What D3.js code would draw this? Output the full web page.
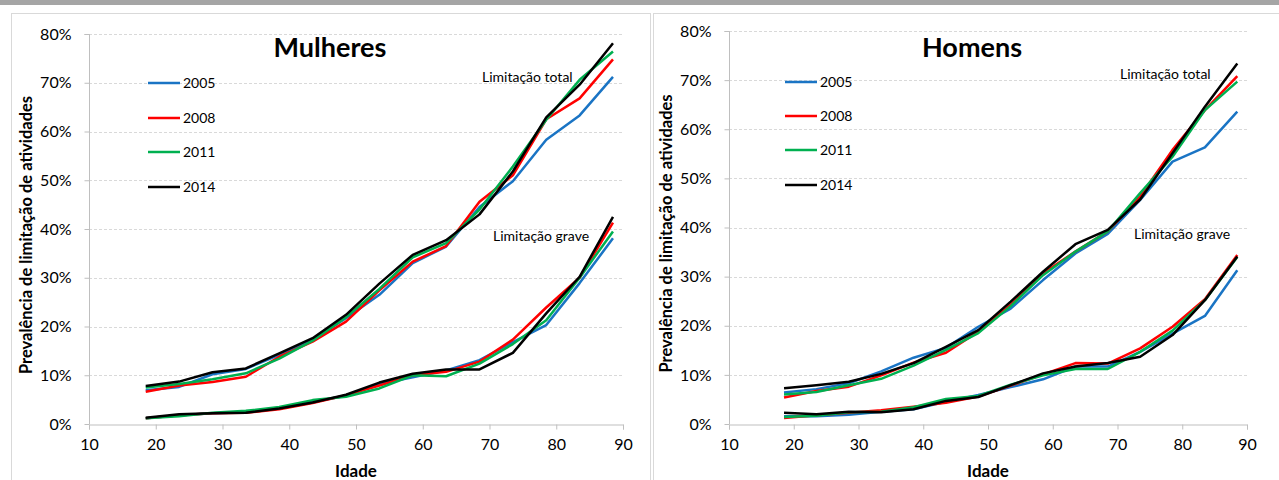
<!DOCTYPE html>
<html>
<head>
  <meta charset="utf-8">
  <title>Prevalência de limitação de atividades</title>
  <script src="https://cdn.jsdelivr.net/npm/d3@7"></script>
  <style>
    body { margin: 0; background: #fff; }
    text { font-family: Lato, "Open Sans", sans-serif; }
  </style>
</head>
<body>
  <div id="chart"></div>

  <script>
    // idades (ponto médio dos grupos)
    const ages = [18.5, 23.5, 28.5, 33.5, 38.5, 43.5, 48.5, 53.5, 58.5, 63.5, 68.5, 73.5, 78.5, 83.5, 88.5]
    const years = ['2005', '2008', '2011', '2014']
    const colors = ['#1a74c4', '#ff0000', '#00b050', '#000000']
    const yTicks = [0, 10, 20, 30, 40, 50, 60, 70, 80]
    const xTicks = [10, 20, 30, 40, 50, 60, 70, 80, 90]

    // Mulheres - limitação total, por ano
    const mulTotal2005 = [6.9, 7.6, 10.2, 11.3, 14.2, 17.3, 21.7, 26.5, 33.0, 36.4, 44.5, 49.8, 58.3, 63.3, 71.2]
    const mulTotal2008 = [6.6, 7.9, 8.6, 9.7, 13.8, 16.9, 21.0, 27.4, 33.3, 36.5, 45.6, 51.0, 62.5, 66.8, 74.8]
    const mulTotal2011 = [7.5, 8.2, 9.2, 10.4, 13.4, 17.1, 21.9, 27.7, 34.2, 37.1, 44.0, 52.8, 62.4, 70.6, 76.4]
    const mulTotal2014 = [7.8, 8.7, 10.6, 11.4, 14.5, 17.6, 22.4, 28.8, 34.7, 37.7, 43.0, 51.8, 62.9, 69.6, 78.1]

    // Mulheres - limitação grave
    const mulGrave2005 = [1.2, 1.8, 2.2, 2.4, 3.2, 4.5, 5.8, 8.2, 9.6, 11.0, 13.1, 16.8, 20.3, 28.9, 38.1]
    const mulGrave2008 = [1.2, 1.8, 2.2, 2.3, 3.0, 4.3, 5.9, 7.9, 10.0, 10.7, 12.8, 17.3, 23.9, 30.0, 41.3]
    const mulGrave2011 = [1.2, 1.6, 2.3, 2.7, 3.5, 4.9, 5.6, 7.3, 10.0, 9.8, 12.4, 16.4, 21.3, 30.0, 39.5]
    const mulGrave2014 = [1.3, 2.0, 2.2, 2.3, 3.2, 4.4, 6.0, 8.5, 10.3, 11.2, 11.2, 14.6, 22.7, 30.2, 42.5]

    // Homens - limitação total
    const homTotal2005 = [6.4, 7.1, 8.3, 10.7, 13.5, 15.5, 19.8, 23.5, 29.3, 34.7, 38.7, 45.6, 53.4, 56.3, 63.6]
    const homTotal2008 = [5.4, 6.7, 7.6, 9.9, 12.5, 14.5, 18.8, 24.3, 30.7, 35.1, 39.2, 46.3, 55.8, 63.9, 70.8]
    const homTotal2011 = [6.0, 6.5, 7.9, 9.2, 11.9, 15.1, 18.5, 24.0, 30.3, 35.1, 39.2, 47.0, 54.4, 63.9, 69.7]
    const homTotal2014 = [7.3, 7.9, 8.6, 10.2, 12.4, 15.7, 19.1, 24.9, 31.0, 36.6, 39.5, 45.7, 55.1, 64.6, 73.4]

    // Homens - limitação grave
    const homGrave2005 = [1.6, 1.6, 1.9, 2.5, 3.0, 4.5, 5.9, 7.5, 9.1, 11.7, 11.7, 14.7, 18.4, 22.0, 31.3]
    const homGrave2008 = [1.2, 1.8, 2.3, 2.8, 3.5, 4.3, 5.6, 7.8, 10.1, 12.4, 12.3, 15.4, 19.8, 25.4, 34.4]
    const homGrave2011 = [1.4, 1.7, 2.4, 2.5, 3.4, 5.1, 5.7, 8.0, 9.9, 11.2, 11.2, 14.7, 19.0, 25.2, 34.0]
    const homGrave2014 = [2.3, 2.0, 2.5, 2.4, 3.0, 4.7, 5.5, 7.9, 10.3, 11.7, 12.4, 13.7, 18.1, 25.2, 34.1]

    const width = 1279
    const height = 480

    const svg = d3.select('#chart')
      .append('svg')
      .attr('width', width)
      .attr('height', height)

    // faixa cinzenta no topo
    svg.append('rect')
      .attr('x', 0).attr('y', 0)
      .attr('width', width).attr('height', 5)
      .attr('fill', '#a5a5a5')

    const panels = [
      {
        title: 'Mulheres',
        frame: [11, 13, 639],
        x0: 89, x1: 623, y0: 424, y1: 34,
        total: [mulTotal2005, mulTotal2008, mulTotal2011, mulTotal2014],
        grave: [mulGrave2005, mulGrave2008, mulGrave2011, mulGrave2014],
        titleX: 330,
        legX: 148, legY: [83, 118, 152, 187],
        totalLab: [482, 77], graveLab: [493, 236]
      },
      {
        title: 'Homens',
        frame: [653, 13, 640],
        x0: 729, x1: 1247, y0: 424, y1: 31,
        total: [homTotal2005, homTotal2008, homTotal2011, homTotal2014],
        grave: [homGrave2005, homGrave2008, homGrave2011, homGrave2014],
        titleX: 972,
        legX: 785, legY: [82, 116, 150, 185],
        totalLab: [1120, 74], graveLab: [1134, 234]
      }
    ]

    panels.forEach(p => drawPanel(p))

    function drawPanel(p) {
      const g = svg.append('g')

      // moldura do painel
      g.append('rect')
        .attr('x', p.frame[0] + 0.5).attr('y', p.frame[1] + 0.5)
        .attr('width', p.frame[2]).attr('height', 500)
        .attr('fill', '#fff')
        .attr('stroke', '#d9d9d9')

      const x = d3.scaleLinear().domain([10, 90]).range([p.x0, p.x1])
      const y = d3.scaleLinear().domain([0, 80]).range([p.y0, p.y1])

      // grelha
      g.append('g')
        .selectAll('line')
        .data(yTicks.slice(1))
        .enter()
        .append('line')
        .attr('x1', p.x0).attr('x2', p.x1)
        .attr('y1', d => Math.round(y(d)) + 0.5)
        .attr('y2', d => Math.round(y(d)) + 0.5)
        .attr('stroke', '#d9d9d9')
        .attr('stroke-dasharray', '3,2')

      // eixos
      const yAxis = g.append('g')
        .attr('transform', `translate(${p.x0 + 0.5},0)`)
        .call(d3.axisLeft(y).tickValues(yTicks).tickSize(5).tickFormat(d => d + '%'))
      const xAxis = g.append('g')
        .attr('transform', `translate(0,${p.y0 + 0.5})`)
        .call(d3.axisBottom(x).tickValues(xTicks).tickSize(5).tickFormat(d3.format('d')))

      ;[yAxis, xAxis].forEach(a => {
        a.select('.domain').attr('stroke', '#bfbfbf')
        a.selectAll('.tick line').attr('stroke', '#bfbfbf')
        a.selectAll('.tick text')
          .attr('fill', '#000')
          .style('font-size', '16px')
          .style('font-family', 'Lato, "Open Sans", sans-serif')
      })
      yAxis.select('.domain').attr('d', `M-5,${p.y1 + 0.5}H0V${p.y0}`)
      yAxis.selectAll('.tick text').attr('x', -18)
      xAxis.selectAll('.tick text').attr('y', 14)

      // linhas
      const line = d3.line()
        .x((d, i) => x(ages[i]))
        .y(d => y(d))

      const series = []
      years.forEach((yr, k) => {
        series.push({ values: p.total[k], color: colors[k] })
        series.push({ values: p.grave[k], color: colors[k] })
      })
      // ordem de desenho: 2005 por baixo, 2014 por cima
      g.append('g')
        .selectAll('path')
        .data(series)
        .enter()
        .append('path')
        .attr('d', d => line(d.values))
        .attr('fill', 'none')
        .attr('stroke', d => d.color)
        .attr('stroke-width', 2.5)
        .attr('stroke-linejoin', 'round')

      // legenda
      const leg = g.append('g')
        .selectAll('g')
        .data(years)
        .enter()
        .append('g')
        .attr('transform', (d, i) => `translate(${p.legX},${p.legY[i]})`)
      leg.append('line')
        .attr('x1', 0).attr('x2', 32)
        .attr('stroke', (d, i) => colors[i])
        .attr('stroke-width', 2.5)
      leg.append('text')
        .attr('x', 35).attr('dy', '0.35em')
        .style('font-size', '14px')
        .text(d => d)

      // título
      g.append('text')
        .attr('x', p.titleX).attr('y', 57)
        .attr('text-anchor', 'middle')
        .style('font-size', '27px')
        .style('font-weight', 'bold')
        .text(p.title)

      // anotações
      g.append('text')
        .attr('x', p.totalLab[0]).attr('y', p.totalLab[1])
        .attr('dy', '0.35em')
        .style('font-size', '14px')
        .text('Limitação total')
      g.append('text')
        .attr('x', p.graveLab[0]).attr('y', p.graveLab[1])
        .attr('dy', '0.35em')
        .style('font-size', '14px')
        .text('Limitação grave')

      // títulos dos eixos
      g.append('text')
        .attr('x', (p.x0 + p.x1) / 2).attr('y', 477)
        .attr('text-anchor', 'middle')
        .style('font-size', '17px')
        .style('font-weight', 'bold')
        .text('Idade')
      g.append('text')
        .attr('transform', `translate(${p.x0 - 63},${(p.y0 + p.y1) / 2 + 6}) rotate(-90)`)
        .attr('text-anchor', 'middle')
        .attr('dy', '0.35em')
        .style('font-size', '16.5px')
        .style('font-weight', 'bold')
        .text('Prevalência de limitação de atividades')
    }
  </script>
</body>
</html>
